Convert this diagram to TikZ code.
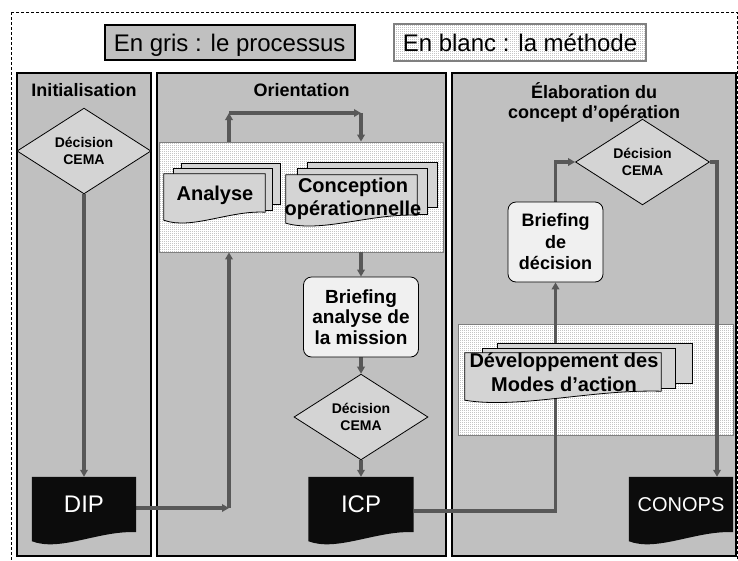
\documentclass[tikz,border=0pt]{standalone}
\usepackage{fontspec}
\setmainfont{Liberation Sans}
\usetikzlibrary{shapes.geometric,arrows.meta,patterns,calc}

\definecolor{panelgray}{RGB}{192,192,192}
\definecolor{lightfill}{RGB}{212,212,212}
\definecolor{connc}{RGB}{88,88,88}
\definecolor{boxfill}{RGB}{240,240,240}
\definecolor{docblack}{RGB}{12,12,12}
\definecolor{dotc}{RGB}{120,120,120}

\pgfdeclarepatternformonly{finedots}{\pgfqpoint{0pt}{0pt}}{\pgfqpoint{2pt}{2pt}}{\pgfqpoint{2pt}{2pt}}{%
  \pgfpathrectangle{\pgfqpoint{0pt}{0pt}}{\pgfqpoint{0.9pt}{0.9pt}}\pgfusepath{fill}}

\pgfdeclarelayer{background}
\pgfdeclarelayer{conn}
\pgfdeclarelayer{docs}
\pgfsetlayers{background,conn,docs,main}

\newcommand\wavedoc[4]{%
  \path[#2] (#1.north west) -- (#1.north east) -- (#1.south east)
    .. controls ($(#1.south east)!0.35!(#1.south west)+(0,-2)$)
       and ($(#1.south east)!0.73!(#1.south west)+(0,#4)$)
    .. ($(#1.south west)+(0,#3)$) -- cycle;}

\tikzset{
  panel/.style={draw=black, line width=2pt, fill=panelgray},
  methodbox/.style={draw=gray, line width=0.8pt, fill=white, inner sep=0pt,
    postaction={pattern=finedots, pattern color=dotc}},
  conn/.style={draw=connc, line width=3.2pt, -{Triangle[length=7pt,width=7.5pt]}},
  decision/.style={diamond, draw=black, line width=0.8pt, fill=lightfill,
    minimum width=134pt, minimum height=76pt, inner sep=0pt, align=center,
    font=\bfseries\fontsize{14}{17}\selectfont},
  brief/.style={rectangle, rounded corners=8pt, draw=black, line width=0.8pt,
    fill=boxfill, align=center, inner sep=0pt},
  docnode/.style={rectangle, inner sep=0pt, text=white},
  docfill/.style={fill=docblack},
  stackfill/.style={draw=black, line width=0.8pt, fill=lightfill},
  ptitle/.style={font=\bfseries\fontsize{18}{20}\selectfont, align=center, inner sep=0pt},
  stacktext/.style={font=\bfseries\fontsize{20}{23}\selectfont, align=center, inner sep=0pt},
  legendtext/.style={inner sep=0pt, text height=17.5pt, text depth=0pt,
    font=\fontsize{24}{28}\selectfont}
}

\begin{document}
\begin{tikzpicture}[x=1pt,y=-1pt]
\useasboundingbox (0,0) rectangle (738,560);

\begin{pgfonlayer}{background}
  \draw[black, line width=0.8pt, dash pattern=on 3pt off 2pt] (11,12) rectangle (737,575);
  \path[panel] (17,72.8) rectangle (151,556.3);
  \path[panel] (156.7,72.8) rectangle (446.3,556.3);
  \path[panel] (452.2,72.8) rectangle (736,556.3);
  \node[methodbox, minimum width=284pt, minimum height=110pt] (meth1) at (301,197) {};
  \node[methodbox, minimum width=275pt, minimum height=111pt] (meth2) at (595.5,379.5) {};
\end{pgfonlayer}

% legend
\node[legendtext, draw=black, line width=2pt, fill=panelgray,
      minimum width=250pt, minimum height=35pt] (leg1) at (229.6,42.9) {En gris : le processus};
\node[legendtext, draw=gray, line width=1.5pt, fill=white,
      postaction={pattern=finedots, pattern color=dotc},
      minimum width=251.6pt, minimum height=36.6pt] (leg2) at (520,42.5) {En blanc : la méthode};

% titles
\node[ptitle] (t1) at (84,90) {Initialisation};
\node[ptitle] (t2) at (301.5,90) {Orientation};
\node[ptitle] (t3) at (594,102) {Élaboration du\\concept d’opération};

% decisions
\node[decision] (d1) at (84,151) {Décision\\CEMA};
\node[decision] (d2) at (361,417) {Décision\\CEMA};
\node[decision] (d3) at (642.5,162) {Décision\\CEMA};

% briefings
\node[brief, minimum width=115pt, minimum height=80pt,
      font=\bfseries\fontsize{19}{20.5}\selectfont] (b1) at (361,317) {Briefing\\analyse de\\la mission};
\node[brief, minimum width=95pt, minimum height=80pt,
      font=\bfseries\fontsize{18}{21.5}\selectfont] (b2) at (555.5,242) {Briefing\\de\\décision};

% documents
\node[docnode, minimum width=104pt, minimum height=55pt,
      font=\fontsize{24}{28}\selectfont] (DIP) at (84,504.5) {DIP};
\node[docnode, minimum width=105pt, minimum height=55pt,
      font=\fontsize{24}{28}\selectfont] (ICP) at (361,504.5) {ICP};
\node[docnode, minimum width=104pt, minimum height=55pt,
      font=\fontsize{20}{24}\selectfont] (CONOPS) at (681,504.5) {CONOPS};

% stacked method documents (front sheets)
\node[docnode, minimum width=101pt, minimum height=38pt] (anaF) at (214.5,193) {};
\node[docnode, minimum width=131pt, minimum height=40pt] (conF) at (351.5,195) {};
\node[docnode, minimum width=196pt, minimum height=38pt] (devF) at (563,372) {};
\node[stacktext] (anaT) at (215,195) {Analyse};
\node[stacktext] (conT) at (353,199) {Conception\\opérationnelle};
\node[stacktext, font=\bfseries\fontsize{20}{24.3}\selectfont] (devT) at (564,372) {Développement des\\Modes d’action};

\begin{pgfonlayer}{docs}
  \wavedoc{DIP}{docfill}{9}{20}
  \wavedoc{ICP}{docfill}{9}{20}
  \wavedoc{CONOPS}{docfill}{9}{20}
  \draw[stackfill] (181,163) rectangle (280,204);
  \draw[stackfill] (173,168) rectangle (272,210);
  \wavedoc{anaF}{stackfill}{8}{18}
  \draw[stackfill] (307,162) rectangle (437,207);
  \draw[stackfill] (297,168) rectangle (427,214);
  \wavedoc{conF}{stackfill}{8}{18}
  \draw[stackfill] (497,343) rectangle (692,383);
  \draw[stackfill] (482,348) rectangle (675,388);
  \wavedoc{devF}{stackfill}{9}{18}
\end{pgfonlayer}

% connectors
\coordinate (dc) at (229,508);
\coordinate (lt) at (229,113);
\coordinate (rt) at (361,113);
\coordinate (ic) at (555.5,511);
\coordinate (cx) at (717,0);

\begin{pgfonlayer}{conn}
  \draw[conn] (d1.south) -- (DIP.north);
  \draw[conn] (DIP.east |- dc) -- (dc);
  \draw[conn] (dc) -- (meth1.south -| dc);
  \draw[conn] (meth1.north -| lt) -- (lt);
  \draw[conn] (lt) -- (rt);
  \draw[conn] (rt) -- (meth1.north -| rt);
  \draw[conn] (meth1.south -| b1.north) -- (b1.north);
  \draw[conn] (b1.south) -- (d2.north);
  \draw[conn] (d2.south) -- (ICP.north);
  \draw[conn] (ICP.east |- ic) -| (b2.south);
  \draw[conn] (b2.north) |- (d3.west);
  \draw[conn] (d3.east) -| (CONOPS.north -| cx);
\end{pgfonlayer}
\end{tikzpicture}
\end{document}
